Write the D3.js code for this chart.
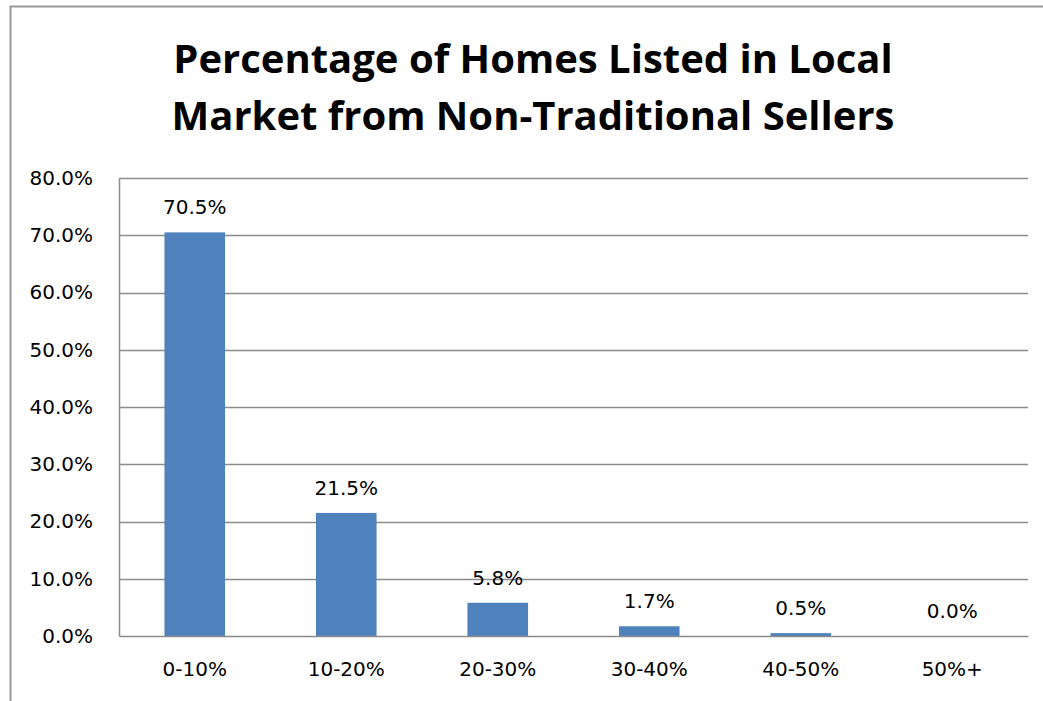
<!DOCTYPE html>
<html>
<head>
<meta charset="utf-8">
<script src="https://cdn.jsdelivr.net/npm/d3@7"></script>
<style>
  body { margin: 0; background: #fff; }
  svg { display: block; }
</style>
</head>
<body>
<div id="chart"></div>
<script>
// data
const categories = ["0-10%", "10-20%", "20-30%", "30-40%", "40-50%", "50%+"];
const values = [70.5, 21.5, 5.8, 1.7, 0.5, 0.0];
const yTicks = [0, 10, 20, 30, 40, 50, 60, 70, 80];
const titleLines = ["Percentage of Homes Listed in Local", "Market from Non-Traditional Sellers"];

const width = 1043, height = 701;
const margin = { top: 178, right: 15, bottom: 65, left: 119 };
const barColor = "#4F81BD";
const gridColor = "#8c8c8c";
const labelFont = "DejaVu Sans, Verdana, sans-serif";

const svg = d3.select("#chart").append("svg")
  .attr("width", width)
  .attr("height", height);

// chart frame
svg.append("rect")
  .attr("x", 10.5).attr("y", 6.5)
  .attr("width", width + 20).attr("height", height + 20)
  .attr("fill", "none")
  .attr("stroke", "#999")
  .attr("stroke-width", 2);

// escalas
const x = d3.scaleBand()
  .domain(categories)
  .range([margin.left, width - margin.right])
  .padding(0);

const y = d3.scaleLinear()
  .domain([0, 80])
  .range([height - margin.bottom, margin.top]);

// grid
svg.append("g")
  .selectAll("line")
  .data(yTicks.filter(d => d > 0))
  .join("line")
  .attr("x1", margin.left)
  .attr("x2", width - margin.right)
  .attr("y1", d => Math.round(y(d)) + 0.5)
  .attr("y2", d => Math.round(y(d)) + 0.5)
  .attr("stroke", gridColor)
  .attr("stroke-width", 1.5);

// barras
const barW = x.bandwidth() * 0.4;
svg.append("g")
  .selectAll("rect")
  .data(values)
  .join("rect")
  .attr("x", (d, i) => x(categories[i]) + (x.bandwidth() - barW) / 2)
  .attr("y", d => y(d))
  .attr("width", barW)
  .attr("height", d => y(0) - y(d))
  .attr("fill", barColor);

// etiquetas de datos
svg.append("g")
  .selectAll("text")
  .data(values)
  .join("text")
  .attr("x", (d, i) => x(categories[i]) + x.bandwidth() / 2)
  .attr("y", d => y(d) - 18)
  .attr("text-anchor", "middle")
  .style("font-family", labelFont)
  .style("font-size", "20px")
  .style("fill", "#000")
  .text(d => d.toFixed(1) + "%");

// eje Y
const yAxis = svg.append("g")
  .attr("transform", `translate(${margin.left},0)`)
  .call(d3.axisLeft(y).tickValues(yTicks).tickSize(0).tickPadding(26)
    .tickFormat(d => d.toFixed(1) + "%"));
yAxis.select(".domain").attr("stroke", gridColor).attr("stroke-width", 1.5);
yAxis.selectAll("text")
  .style("font-family", labelFont)
  .style("font-size", "20px")
  .attr("fill", "#000");

// eje X
const xAxis = svg.append("g")
  .attr("transform", `translate(0,${y(0)})`)
  .call(d3.axisBottom(x).tickSize(0).tickPadding(26));
xAxis.select(".domain").attr("stroke", gridColor).attr("stroke-width", 1.5);
xAxis.selectAll("text")
  .style("font-family", labelFont)
  .style("font-size", "20px")
  .attr("fill", "#000");

// título
svg.append("g")
  .selectAll("text")
  .data(titleLines)
  .join("text")
  .attr("x", 533)
  .attr("y", (d, i) => 73 + i * 57)
  .attr("text-anchor", "middle")
  .style("font-family", "Open Sans, sans-serif")
  .style("font-weight", "bold")
  .style("font-size", "40px")
  .style("fill", "#000")
  .text(d => d);
</script>
</body>
</html>
